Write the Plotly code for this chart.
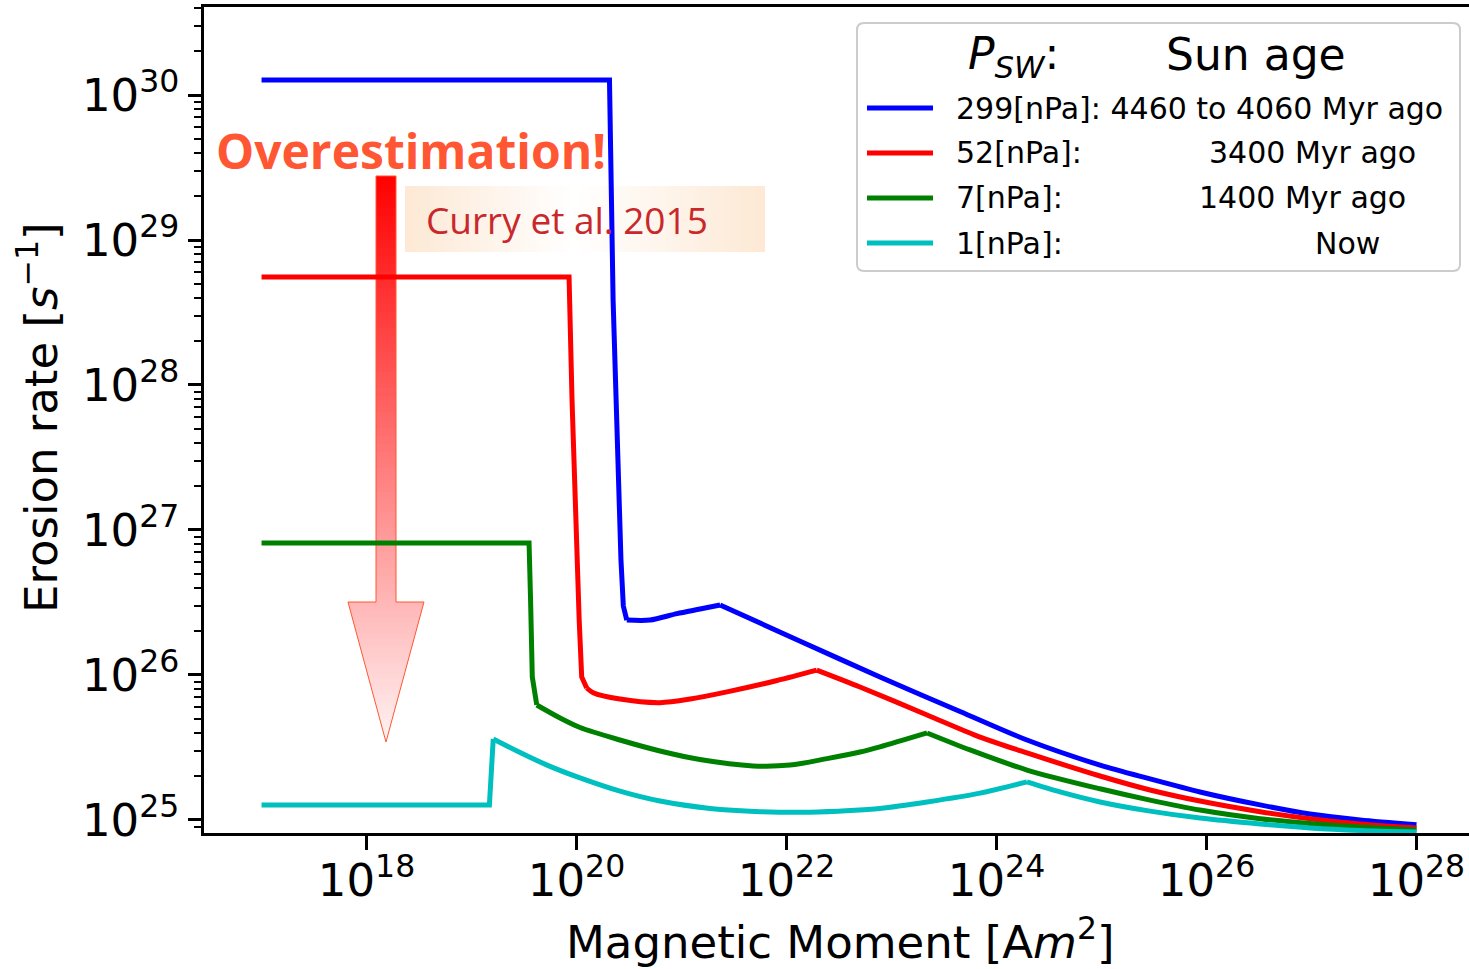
import plotly.graph_objects as go

# ---------------- data ----------------
# Each curve = step (flat + drop, straight), dip (bottom to kink) and tail (kink to end).
blue_step_x = [1e17, 2.06e20, 2.23e20, 2.43e20, 2.65e20, 2.79e20, 3.01e20]
blue_step_y = [1.27e30, 1.27e30, 3.86e28, 4.18e27, 6.21e26, 2.99e26, 2.39e26]
blue_dip_x = [3.01e20, 5.01e20, 9.06e20, 1.50e21, 2.33e21]
blue_dip_y = [2.39e26, 2.39e26, 2.65e26, 2.85e26, 3.04e26]
blue_tail_x = [2.33e21, 1.35e22, 7.76e22, 4.49e23, 1.95e24, 9.68e24, 2.90e25, 8.67e25,
               3.24e26, 9.68e26, 2.90e27, 1e28]
blue_tail_y = [3.04e26, 1.71e26, 9.68e25, 5.60e25, 3.56e25, 2.39e25, 1.92e25, 1.56e25,
               1.27e25, 1.10e25, 1.0e25, 9.25e24]

red_step_x = [1e17, 8.49e19, 9.06e19, 9.68e19, 1.01e20, 1.06e20, 1.12e20, 1.25e20]
red_step_y = [5.56e28, 5.56e28, 7.89e27, 1.61e27, 6.21e26, 2.39e26, 9.68e25, 8.13e25]
red_dip_x = [1.25e20, 1.44e20, 2.59e20, 6.24e20, 1.21e21, 2.71e21, 8.13e21, 1.94e22]
red_dip_y = [8.13e25, 7.55e25, 6.82e25, 6.44e25, 6.82e25, 7.64e25, 9.16e25, 1.08e26]
red_tail_x = [1.94e22, 5.01e22, 2.18e23, 6.97e23, 1.95e24, 9.68e24, 2.90e25, 8.67e25,
              3.24e26, 9.68e26, 2.90e27, 1e28]
red_tail_y = [1.08e26, 8.26e25, 5.30e25, 3.73e25, 2.90e25, 2.01e25, 1.61e25, 1.35e25,
              1.14e25, 1.02e25, 9.38e24, 8.81e24]

green_step_x = [1e17, 3.53e19, 3.65e19, 3.79e19, 4.18e19]
green_step_y = [8.13e26, 8.13e26, 3.29e26, 9.68e25, 6.21e25]
green_dip_x = [4.18e19, 6.97e19, 1.08e20, 2.59e20, 6.24e20, 1.50e21, 4.80e21, 1.08e22,
               2.43e22, 5.01e22, 7.76e22, 2.18e23]
green_dip_y = [6.21e25, 5.05e25, 4.34e25, 3.56e25, 2.99e25, 2.61e25, 2.36e25, 2.39e25,
               2.65e25, 2.94e25, 3.19e25, 3.98e25]
green_tail_x = [2.18e23, 5.60e23, 1.95e24, 9.68e24, 2.90e25, 8.67e25, 3.24e26, 9.68e26,
                2.90e27, 1e28]
green_tail_y = [3.98e25, 3.04e25, 2.21e25, 1.64e25, 1.37e25, 1.17e25, 1.02e25, 9.46e24,
                8.95e24, 8.53e24]

cyan_step_x = [1e17, 1.48e19, 1.61e19]
cyan_step_y = [1.27e25, 1.27e25, 3.62e25]
cyan_dip_x = [1.61e19, 2.71e19, 5.24e19, 1.08e20, 2.59e20, 6.24e20, 1.87e21, 5.60e21,
              1.67e22, 4.03e22, 7.76e22, 2.18e23, 6.97e23, 1.95e24]
cyan_dip_y = [3.62e25, 2.99e25, 2.39e25, 1.95e25, 1.58e25, 1.35e25, 1.20e25, 1.14e25,
              1.13e25, 1.16e25, 1.20e25, 1.33e25, 1.53e25, 1.83e25]
cyan_tail_x = [1.95e24, 4.03e24, 9.68e24, 2.90e25, 8.67e25, 3.24e26, 9.68e26, 2.90e27, 1e28]
cyan_tail_y = [1.83e25, 1.56e25, 1.33e25, 1.15e25, 1.03e25, 9.38e24, 8.81e24, 8.47e24, 8.26e24]

series_names = ["299[nPa]:", "52[nPa]:", "7[nPa]:", "1[nPa]:"]
series_ages = ["4460 to 4060 Myr ago", "3400 Myr ago", "1400 Myr ago", "Now"]
series_colors = ["#0000FF", "#FF0000", "#008000", "#00BFBF"]

x_tick_vals = [1e18, 1e20, 1e22, 1e24, 1e26, 1e28]
x_tick_text = ["10<sup>18</sup>", "10<sup>20</sup>", "10<sup>22</sup>",
               "10<sup>24</sup>", "10<sup>26</sup>", "10<sup>28</sup>"]
y_tick_vals = [1e25, 1e26, 1e27, 1e28, 1e29, 1e30]
y_tick_text = ["10<sup>25</sup>", "10<sup>26</sup>", "10<sup>27</sup>",
               "10<sup>28</sup>", "10<sup>29</sup>", "10<sup>30</sup>"]
y_minor_vals = [k * 10.0 ** n for n in range(24, 31) for k in range(2, 10)]

# ---------------- layout geometry ----------------
W, H = 1469, 969
ML, MR, MT, MB = 204, 0, 7, 136
PW, PH = W - ML - MR, H - MT - MB


def X(px):
    return (px - ML) / PW


def Y(py):
    return (H - MB - py) / PH


def P(px, py):
    return f"{X(px):.5f},{Y(py):.5f}"


FONT = "DejaVu Sans"

fig = go.Figure()
curves = [
    ((blue_step_x, blue_step_y), (blue_dip_x, blue_dip_y), (blue_tail_x, blue_tail_y)),
    ((red_step_x, red_step_y), (red_dip_x, red_dip_y), (red_tail_x, red_tail_y)),
    ((green_step_x, green_step_y), (green_dip_x, green_dip_y), (green_tail_x, green_tail_y)),
    ((cyan_step_x, cyan_step_y), (cyan_dip_x, cyan_dip_y), (cyan_tail_x, cyan_tail_y)),
]
for (step_seg, dip_seg, tail_seg), c in zip(curves, series_colors):
    fig.add_trace(go.Scatter(x=step_seg[0], y=step_seg[1], mode="lines", showlegend=False,
                             line=dict(color=c, width=5), hoverinfo="skip"))
    for seg in (dip_seg, tail_seg):
        fig.add_trace(go.Scatter(x=seg[0], y=seg[1], mode="lines", showlegend=False,
                                 line=dict(color=c, width=5, shape="spline", smoothing=0.8),
                                 hoverinfo="skip"))

shapes = []
annotations = []

# ---- gradient arrow ----
top, head_y, tip = 176, 602, 742
sx0, sx1 = 376, 396
hx0, hx1, cx = 348, 424, 386


def arrow_col(y):
    a = 1 - 0.95 * (y - top) / (tip - top)
    g = int(round(255 * (1 - a)))
    return f"rgb(255,{g},{g})"


step = 4
y = top
while y < head_y:
    y2 = min(y + step, head_y)
    shapes.append(dict(type="rect", xref="paper", yref="paper", layer="below",
                       x0=X(sx0), x1=X(sx1), y0=Y(y), y1=Y(y2 + 0.6),
                       fillcolor=arrow_col((y + y2) / 2), line=dict(width=0)))
    y = y2
y = head_y
half = (hx1 - hx0) / 2
while y < tip:
    y2 = min(y + step, tip)
    yb = min(y2 + 0.6, tip)
    w1 = half * (tip - y) / (tip - head_y)
    w2 = half * (tip - yb) / (tip - head_y)
    path = f"M {P(cx - w1, y)} L {P(cx + w1, y)} L {P(cx + w2, yb)} L {P(cx - w2, yb)} Z"
    shapes.append(dict(type="path", xref="paper", yref="paper", layer="below", path=path,
                       fillcolor=arrow_col((y + y2) / 2), line=dict(width=0)))
    y = y2
outline = (f"M {P(sx0, top)} L {P(sx1, top)} L {P(sx1, head_y)} L {P(hx1, head_y)} "
           f"L {P(cx, tip)} L {P(hx0, head_y)} L {P(sx0, head_y)} Z")
shapes.append(dict(type="path", xref="paper", yref="paper", layer="below", path=outline,
                   line=dict(color="#FF5733", width=1)))

# ---- Curry box with horizontal gradient ----
bx0, bx1, by0, by1 = 405, 765, 186, 252
bc = 575
xs_ = bx0
while xs_ < bx1:
    xe = min(xs_ + 5, bx1)
    xm = (xs_ + xe) / 2
    if xm < bc:
        a = 0.45 * (bc - xm) / (bc - bx0)
    else:
        a = 0.45 * (xm - bc) / (bx1 - bc)
    r = int(round(255 - a * (255 - 250)))
    g = int(round(255 - a * (255 - 205)))
    b = int(round(255 - a * (255 - 160)))
    shapes.append(dict(type="rect", xref="paper", yref="paper", layer="below",
                       x0=X(xs_), x1=X(min(xe + 0.6, bx1)), y0=Y(by0), y1=Y(by1),
                       fillcolor=f"rgb({r},{g},{b})", line=dict(width=0)))
    xs_ = xe

annotations.append(dict(text="Curry et al. 2015", xref="paper", yref="paper",
                        x=X(567), y=Y(219), xanchor="center", yanchor="middle",
                        showarrow=False, font=dict(family="Open Sans", size=37, color="#C8282C")))
annotations.append(dict(text="<b>Overestimation!</b>", xref="paper", yref="paper",
                        x=X(411), y=Y(150), xanchor="center", yanchor="middle",
                        showarrow=False, font=dict(family="Open Sans", size=48, color="#FF5733")))

# ---- legend (drawn manually) ----
lx0, lx1, ly0, ly1, rr = 857, 1460, 23, 271, 7
lpath = (f"M {P(lx0 + rr, ly0)} L {P(lx1 - rr, ly0)} Q {P(lx1, ly0)} {P(lx1, ly0 + rr)} "
         f"L {P(lx1, ly1 - rr)} Q {P(lx1, ly1)} {P(lx1 - rr, ly1)} "
         f"L {P(lx0 + rr, ly1)} Q {P(lx0, ly1)} {P(lx0, ly1 - rr)} "
         f"L {P(lx0, ly0 + rr)} Q {P(lx0, ly0)} {P(lx0 + rr, ly0)} Z")
shapes.append(dict(type="path", xref="paper", yref="paper", layer="above", path=lpath,
                   fillcolor="rgba(255,255,255,0.85)", line=dict(color="#CCCCCC", width=2)))

annotations.append(dict(text="<i>P</i><sub><i>SW</i></sub>:", xref="paper", yref="paper",
                        x=X(966), y=Y(57), xanchor="left", yanchor="middle", showarrow=False,
                        font=dict(family=FONT, size=44, color="black")))
annotations.append(dict(text="Sun age", xref="paper", yref="paper",
                        x=X(1164), y=Y(54), xanchor="left", yanchor="middle", showarrow=False,
                        font=dict(family=FONT, size=44, color="black")))

row_y = [108, 153, 198, 243]
age_x = [None, 1207, 1197, 1313]
for i in range(4):
    shapes.append(dict(type="line", xref="paper", yref="paper", layer="above",
                       x0=X(867), x1=X(933), y0=Y(row_y[i]), y1=Y(row_y[i]),
                       line=dict(color=series_colors[i], width=5)))
    if i == 0:
        txt = series_names[0] + " " + series_ages[0]
        annotations.append(dict(text=txt, xref="paper", yref="paper", x=X(954), y=Y(row_y[i]),
                                xanchor="left", yanchor="middle", showarrow=False,
                                font=dict(family=FONT, size=30, color="black")))
    else:
        annotations.append(dict(text=series_names[i], xref="paper", yref="paper", x=X(954),
                                y=Y(row_y[i]), xanchor="left", yanchor="middle", showarrow=False,
                                font=dict(family=FONT, size=30, color="black")))
        annotations.append(dict(text=series_ages[i], xref="paper", yref="paper", x=X(age_x[i]),
                                y=Y(row_y[i]), xanchor="left", yanchor="middle", showarrow=False,
                                font=dict(family=FONT, size=30, color="black")))

# ---- axis titles ----
annotations.append(dict(text="Erosion rate [<i>s</i><sup>−1</sup>]", xref="paper", yref="paper",
                        x=X(38), y=Y(418), xanchor="center", yanchor="middle", textangle=-90,
                        showarrow=False, font=dict(family=FONT, size=45, color="black")))
annotations.append(dict(text="Magnetic Moment [A<i>m</i><sup>2</sup>]", xref="paper", yref="paper",
                        x=X(840), y=Y(940), xanchor="center", yanchor="middle",
                        showarrow=False, font=dict(family=FONT, size=45, color="black")))

x_range = [16.452, 28.5]
y_range = [24.910, 30.607]

fig.update_layout(
    width=W, height=H, autosize=False,
    margin=dict(l=ML, r=MR, t=MT, b=MB, pad=0),
    paper_bgcolor="white", plot_bgcolor="white",
    shapes=shapes, annotations=annotations,
    xaxis=dict(type="log", range=x_range, showline=True, linecolor="black", linewidth=2.5,
               mirror=True, ticks="outside", ticklen=14, tickwidth=2.5, tickcolor="black",
               tickmode="array", tickvals=x_tick_vals, ticktext=x_tick_text,
               ticklabelstandoff=-8,
               tickfont=dict(family=FONT, size=45, color="black"),
               showgrid=False, zeroline=False),
    yaxis=dict(type="log", range=y_range, showline=True, linecolor="black", linewidth=2.5,
               ticks="outside", ticklen=13, tickwidth=2.5, tickcolor="black",
               tickmode="array", tickvals=y_tick_vals, ticktext=y_tick_text,
               tickfont=dict(family=FONT, size=45, color="black"),
               minor=dict(tickmode="array", tickvals=y_minor_vals, ticks="outside",
                          ticklen=7, tickwidth=2, tickcolor="black", showgrid=False),
               showgrid=False, zeroline=False),
)

fig.write_html("out.html",
               config={"displayModeBar": False},
               post_script="document.body.style.margin='0px';"
                           "document.body.style.overflow='hidden';")
